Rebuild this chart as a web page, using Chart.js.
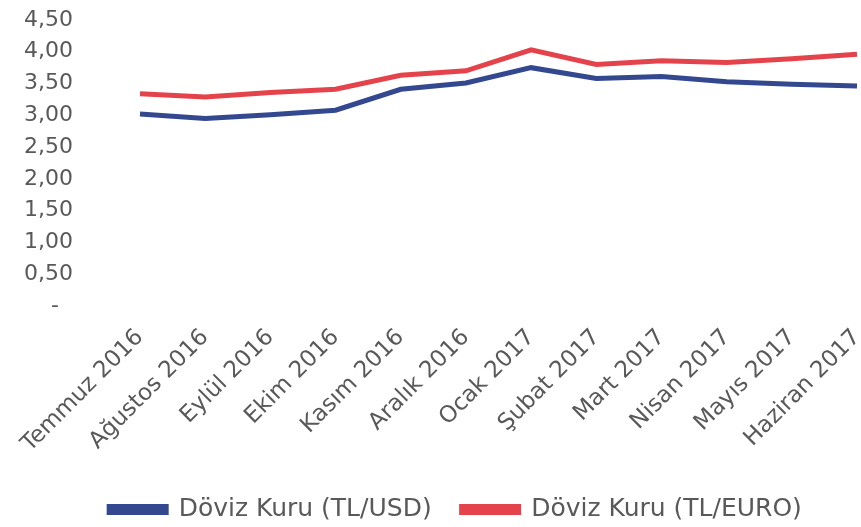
<!DOCTYPE html>
<html>
<head>
<meta charset="utf-8">
<script src="https://cdn.jsdelivr.net/npm/chart.js@4/dist/chart.umd.min.js"></script>
<style>
  html, body { margin: 0; padding: 0; background: #fff; }
  #wrap { width: 861px; height: 527px; }
</style>
</head>
<body>
<div id="wrap"><canvas id="kur"></canvas></div>
<script>
// DATA
var months = ['Temmuz 2016', 'Ağustos 2016', 'Eylül 2016', 'Ekim 2016', 'Kasım 2016', 'Aralık 2016',
	'Ocak 2017', 'Şubat 2017', 'Mart 2017', 'Nisan 2017', 'Mayıs 2017', 'Haziran 2017'];
var usdValues = [3.02, 2.95, 3.01, 3.08, 3.41, 3.51, 3.75, 3.58, 3.61, 3.53, 3.49, 3.46];
var euroValues = [3.34, 3.29, 3.36, 3.41, 3.63, 3.70, 4.03, 3.80, 3.86, 3.83, 3.89, 3.96];
var yTickLabels = ['-  ', '0,50', '1,00', '1,50', '2,00', '2,50', '3,00', '3,50', '4,00', '4,50'];

var textColor = '#595959';
var fontFam = '"DejaVu Sans", Verdana, sans-serif';

// shift the legend a bit to the right, like the original
var legendShift = {
	id: 'legendShift',
	afterLayout: function(chart) {
		if (chart.legend) {
			chart.legend.left += 27;
			chart.legend.right += 27;
		}
	}
};

var ctx = document.getElementById('kur').getContext('2d');
var kurChart = new Chart(ctx, {
	type: 'line',
	data: {
		labels: months,
		datasets: [{
			label: 'Döviz Kuru (TL/USD)',
			data: usdValues,
			borderColor: '#34488f',
			backgroundColor: '#34488f',
			borderWidth: 5,
			pointRadius: 0,
			tension: 0
		}, {
			label: 'Döviz Kuru (TL/EURO)',
			data: euroValues,
			borderColor: '#e5434c',
			backgroundColor: '#e5434c',
			borderWidth: 5,
			pointRadius: 0,
			tension: 0
		}]
	},
	plugins: [legendShift],
	options: {
		responsive: true,
		maintainAspectRatio: false,
		animation: false,
		layout: {
			padding: { top: 20, right: 4, bottom: 0, left: 0 }
		},
		plugins: {
			tooltip: { enabled: false },
			legend: {
				display: true,
				position: 'bottom',
				maxHeight: 60,
				labels: {
					color: textColor,
					font: { family: fontFam, size: 25 },
					boxWidth: 57,
					boxHeight: 6,
					padding: 30
				}
			}
		},
		scales: {
			x: {
				grid: { display: false, drawTicks: false },
				border: { display: false },
				ticks: {
					color: textColor,
					font: { family: fontFam, size: 23 },
					maxRotation: 45,
					minRotation: 45,
					autoSkip: false,
					padding: 18
				},
				afterFit: function(scale) {
					scale.paddingLeft = 0;
					scale.paddingRight = 4;
					scale.height = 161;
				}
			},
			y: {
				min: 0,
				max: 4.5,
				grid: { display: false, drawTicks: false },
				border: { display: false },
				ticks: {
					stepSize: 0.5,
					autoSkip: false,
					color: textColor,
					font: { family: fontFam, size: 22 },
					padding: 67,
					callback: function(value, index) {
						return yTickLabels[index];
					}
				},
				afterFit: function(scale) {
					scale.width = 140;
					scale.paddingTop = 0;
					scale.paddingBottom = 0;
				}
			}
		}
	}
});
</script>
</body>
</html>
